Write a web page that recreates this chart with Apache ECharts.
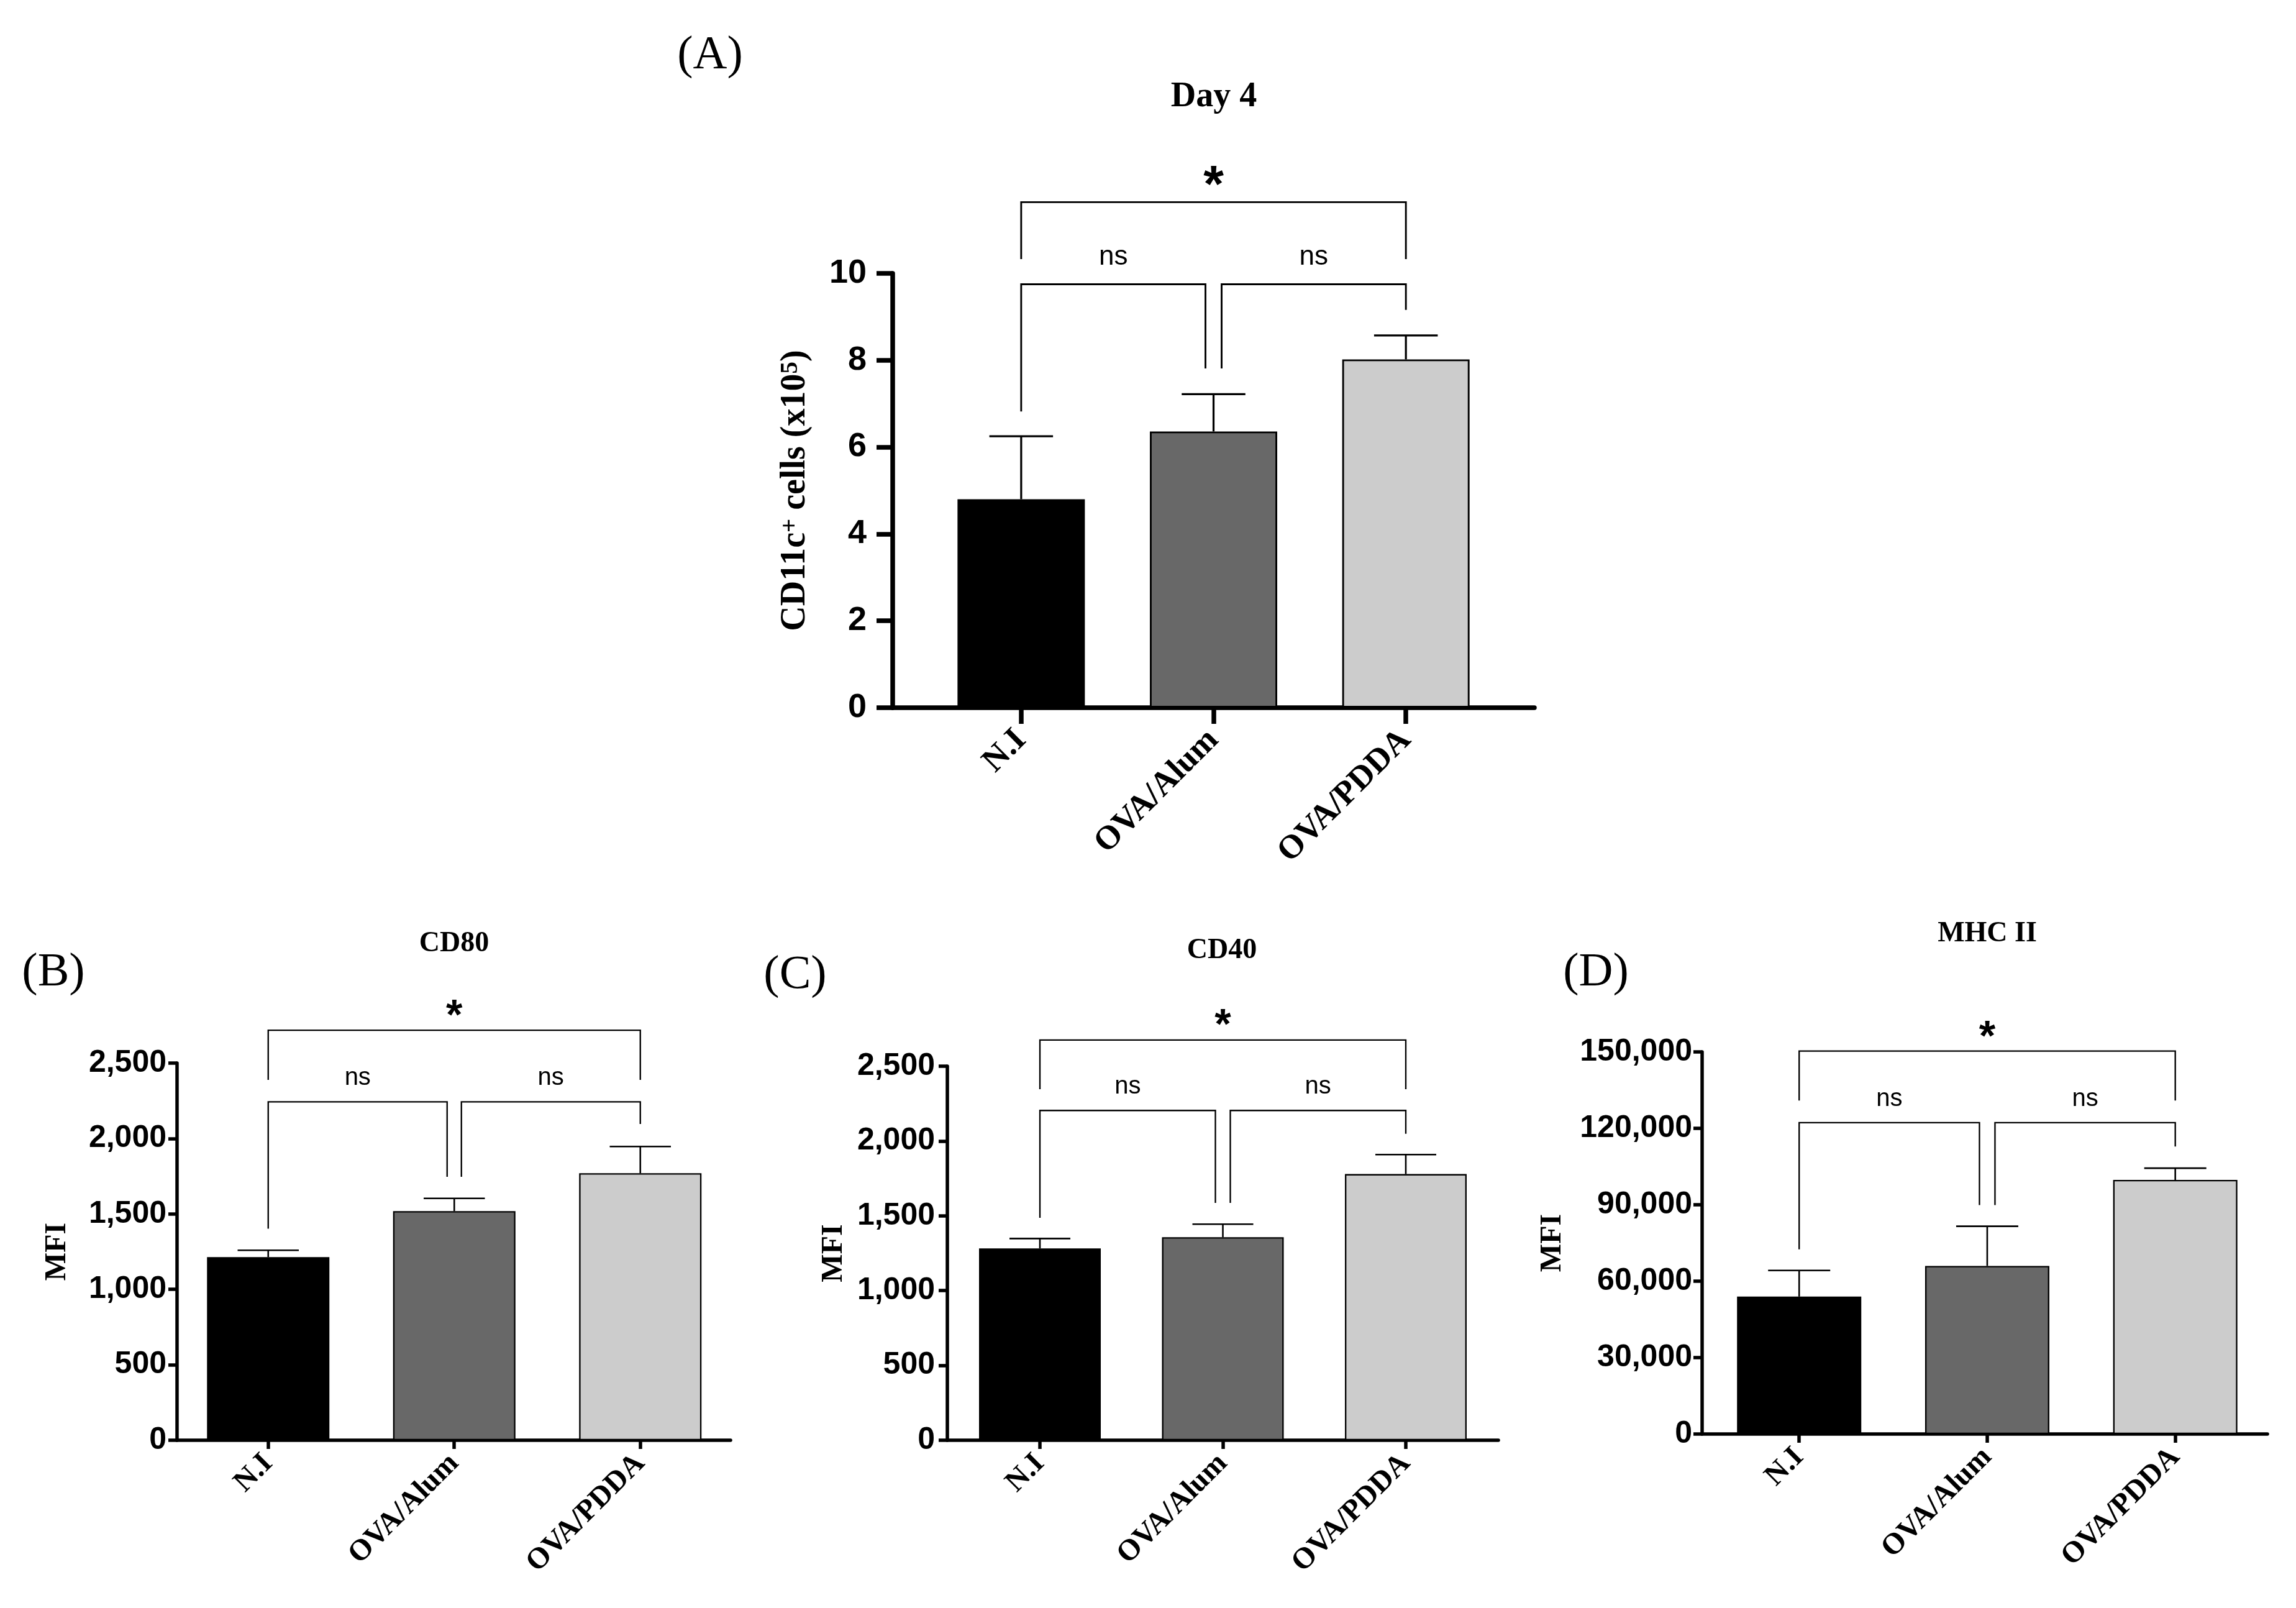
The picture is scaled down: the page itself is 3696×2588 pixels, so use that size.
<!DOCTYPE html>
<html><head><meta charset="utf-8">
<script src="https://cdn.jsdelivr.net/npm/echarts@6/dist/echarts.min.js"></script>
<style>html,body{margin:0;padding:0;background:#fff}#c{width:3696px;height:2588px}</style>
</head><body><div id="c"></div>
<script>
// ---------- data ----------
const categories = ['N.I', 'OVA/Alum', 'OVA/PDDA'];
const barColors = ['#000000', '#686868', '#cccccc'];

// Panel A: Day 4, CD11c+ cells (x10^5)
const dayMeans = [4.80, 6.36, 8.02];
const dayUpper = [6.25, 7.22, 8.57];
const dayBrackets = [[0, 1, 9.75, 6.82, 7.81], [1, 2, 9.75, 7.81, 9.16], [0, 2, 11.64, 10.33, 10.33]];
const dayMarks = [['ns', 0.5, 10.38], ['ns', 1.5, 10.38], ['*', 1, 12.25]];
const dayTicks = { max: 10, interval: 2 };

// Panel B: CD80 MFI
const cd80Means = [1214, 1519, 1770];
const cd80Upper = [1259, 1603, 1947];
const cd80Brackets = [[0, 1, 2243, 1402, 1746], [1, 2, 2243, 1746, 2096], [0, 2, 2718, 2389, 2389]];
const cd80Marks = [['ns', 0.5, 2401], ['ns', 1.5, 2401], ['*', 1, 2868]];
const cd80Ticks = { max: 2500, interval: 500 };

// Panel C: CD40 MFI
const cd40Means = [1282, 1357, 1779];
const cd40Upper = [1348, 1444, 1909];
const cd40Brackets = [[0, 1, 2204, 1487, 1586], [1, 2, 2204, 1586, 2048], [0, 2, 2675, 2346, 2346]];
const cd40Marks = [['ns', 0.5, 2364], ['ns', 1.5, 2364], ['*', 1, 2829]];
const cd40Ticks = { max: 2500, interval: 500 };

// Panel D: MHC II MFI
const mhcMeans = [53950, 65980, 99760];
const mhcUpper = [64210, 81545, 104360];
const mhcBrackets = [[0, 1, 122230, 72520, 89860], [1, 2, 122230, 89860, 112850], [0, 2, 150350, 130900, 130900]];
const mhcMarks = [['ns', 0.5, 131430], ['ns', 1.5, 131430], ['*', 1, 159200]];
const mhcTicks = { max: 150000, interval: 30000 };

// ---------- layout / style ----------
const SERIF = 'Liberation Serif';
const SANS = 'Liberation Sans';
const panels = [
  { means: dayMeans, upper: dayUpper, brackets: dayBrackets, marks: dayMarks, ticks: dayTicks,
    grid: { left: 1437, top: 440, width: 1033, height: 699 }, xMin: -0.668, xMax: 2.668,
    barW: 205, axisW: 7.5, tickLen: 26, tickSize: 54, labelMargin: 42, catSize: 54, catMargin: 44,
    name: '{b|CD11c}{s|+}{b| cells (x10}{s|5}{b|)}', nameSize: 56, nameGap: 128,
    lineW: 3.2, nsSize: 44, starSize: 84, legGap: 13, fmt: v => String(v) },
  { means: cd80Means, upper: cd80Upper, brackets: cd80Brackets, marks: cd80Marks, ticks: cd80Ticks,
    grid: { left: 285, top: 1711, width: 891, height: 607 }, xMin: -0.49, xMax: 2.485,
    barW: 197, axisW: 5.5, tickLen: 14, tickSize: 50, labelMargin: 17, catSize: 48, catMargin: 30,
    name: '{b|MFI}', nameSize: 48, nameGap: 168,
    lineW: 2.6, nsSize: 40, starSize: 68, legGap: 11.5, fmt: v => v.toLocaleString('en-US') },
  { means: cd40Means, upper: cd40Upper, brackets: cd40Brackets, marks: cd40Marks, ticks: cd40Ticks,
    grid: { left: 1525, top: 1716, width: 887, height: 602 }, xMin: -0.506, xMax: 2.506,
    barW: 196, axisW: 5.5, tickLen: 14, tickSize: 50, labelMargin: 20, catSize: 48, catMargin: 30,
    name: '{b|MFI}', nameSize: 48, nameGap: 158,
    lineW: 2.6, nsSize: 40, starSize: 68, legGap: 12, fmt: v => v.toLocaleString('en-US') },
  { means: mhcMeans, upper: mhcUpper, brackets: mhcBrackets, marks: mhcMarks, ticks: mhcTicks,
    grid: { left: 2740, top: 1693, width: 910, height: 615 }, xMin: -0.516, xMax: 2.49,
    barW: 200, axisW: 5.5, tickLen: 14, tickSize: 50, labelMargin: 16, catSize: 48, catMargin: 30,
    name: '{b|MFI}', nameSize: 48, nameGap: 216,
    lineW: 2.6, nsSize: 40, starSize: 68, legGap: 12.5, fmt: v => v.toLocaleString('en-US') }
];

const panelTexts = [
  { text: '(A)', x: 1143, y: 90, size: 76, bold: false },
  { text: 'Day 4', x: 1954, y: 157, size: 56, bold: true },
  { text: '(B)', x: 86, y: 1566, size: 76, bold: false },
  { text: 'CD80', x: 731, y: 1519, size: 46, bold: true },
  { text: '(C)', x: 1280, y: 1570, size: 76, bold: false },
  { text: 'CD40', x: 1967, y: 1530, size: 46, bold: true },
  { text: '(D)', x: 2569, y: 1566, size: 76, bold: false },
  { text: 'MHC II', x: 3199, y: 1503, size: 46, bold: true }
];

// ---------- build option ----------
const grids = [], xAxes = [], yAxes = [], series = [];
panels.forEach((P, k) => {
  grids.push(Object.assign({ containLabel: false }, P.grid));
  xAxes.push({
    type: 'value', gridIndex: k, min: P.xMin, max: P.xMax,
    axisLine: { show: true, onZero: false, lineStyle: { color: '#000', width: P.axisW } },
    axisTick: { show: true, customValues: [0, 1, 2], length: P.tickLen, lineStyle: { color: '#000', width: P.axisW } },
    axisLabel: { show: true, customValues: [0, 1, 2], formatter: v => categories[Math.round(v)] || '',
      rotate: 45, fontFamily: SERIF, fontWeight: 'bold', fontSize: P.catSize, color: '#000', margin: P.catMargin },
    splitLine: { show: false }
  });
  yAxes.push({
    type: 'value', gridIndex: k, min: 0, max: P.ticks.max, interval: P.ticks.interval,
    axisLine: { show: true, onZero: false, lineStyle: { color: '#000', width: P.axisW } },
    axisTick: { show: true, length: P.tickLen, lineStyle: { color: '#000', width: P.axisW } },
    axisLabel: { fontFamily: SANS, fontWeight: 'bold', fontSize: P.tickSize, color: '#000', margin: P.labelMargin, formatter: P.fmt },
    splitLine: { show: false },
    name: P.name, nameLocation: 'middle', nameGap: P.nameGap,
    nameTextStyle: { color: '#000', rich: {
      b: { fontFamily: SERIF, fontWeight: 'bold', fontSize: P.nameSize, color: '#000' },
      s: { fontFamily: SERIF, fontWeight: 'bold', fontSize: Math.round(P.nameSize * 0.7), color: '#000', verticalAlign: 'top' }
    } }
  });
  series.push({
    type: 'bar', xAxisIndex: k, yAxisIndex: k, barWidth: P.barW, z: 2,
    data: P.means.map((v, i) => ({ value: [i, v], itemStyle: { color: barColors[i], borderColor: '#000', borderWidth: P.lineW * 0.9 } }))
  });
  series.push({
    type: 'custom', xAxisIndex: k, yAxisIndex: k, z: 3, clip: false,
    data: P.means.map((v, i) => [i, v, P.upper[i]]),
    encode: { x: 0, y: [1, 2] },
    renderItem: (params, api) => {
      const p0 = api.coord([api.value(0), api.value(1)]);
      const p1 = api.coord([api.value(0), api.value(2)]);
      const hw = P.barW / 4;
      const st = { stroke: '#000', lineWidth: P.lineW, fill: null };
      return { type: 'group', children: [
        { type: 'line', shape: { x1: p0[0], y1: p0[1], x2: p1[0], y2: p1[1] }, style: st },
        { type: 'line', shape: { x1: p1[0] - hw, y1: p1[1], x2: p1[0] + hw, y2: p1[1] }, style: st }
      ] };
    }
  });
  series.push({
    type: 'custom', xAxisIndex: k, yAxisIndex: k, z: 4, clip: false,
    data: P.brackets,
    encode: { x: [0, 1], y: [2, 3, 4] },
    renderItem: (params, api) => {
      const x1 = api.value(0), x2 = api.value(1);
      const yt = api.value(2), yl = api.value(3), yr = api.value(4);
      const L = api.coord([x1, yt]), R = api.coord([x2, yt]);
      let lx = L[0], rx = R[0];
      if (x1 === 1) lx += P.legGap;
      if (x2 === 1) rx -= P.legGap;
      const ylp = api.coord([x1, yl])[1], yrp = api.coord([x2, yr])[1];
      return { type: 'polyline', shape: { points: [[lx, ylp], [lx, L[1]], [rx, R[1]], [rx, yrp]] },
        style: { stroke: '#000', lineWidth: P.lineW * 0.9, fill: null } };
    }
  });
  series.push({
    type: 'custom', xAxisIndex: k, yAxisIndex: k, z: 5, clip: false,
    data: P.marks.map(m => [m[1], m[2]]),
    encode: { x: 0, y: 1 },
    renderItem: (params, api) => {
      const txt = P.marks[params.dataIndex][0];
      const x = api.value(0);
      const pt = api.coord([x, api.value(1)]);
      let px = pt[0];
      if (txt === 'ns') px += (x < 1 ? -P.legGap / 2 : P.legGap / 2);
      const star = txt === '*';
      const fs = star ? P.starSize : P.nsSize;
      return { type: 'text', style: {
        x: px, y: pt[1] + (star ? 0.23 * fs : 0), text: txt, align: 'center', verticalAlign: 'middle',
        fontFamily: SANS, fontWeight: star ? 'bold' : 'normal', fontSize: fs, fill: '#000' } };
    }
  });
});

const option = {
  animation: false,
  backgroundColor: '#ffffff',
  grid: grids, xAxis: xAxes, yAxis: yAxes, series: series,
  graphic: panelTexts.map(t => ({
    type: 'text', x: t.x, y: t.y, style: {
      text: t.text, align: 'center', verticalAlign: 'middle', fill: '#000',
      font: (t.bold ? 'bold ' : '') + t.size + 'px "' + SERIF + '"' } }))
};

const chart = echarts.init(document.getElementById('c'), null, { renderer: 'canvas' });
chart.setOption(option);
</script>
</body></html>
